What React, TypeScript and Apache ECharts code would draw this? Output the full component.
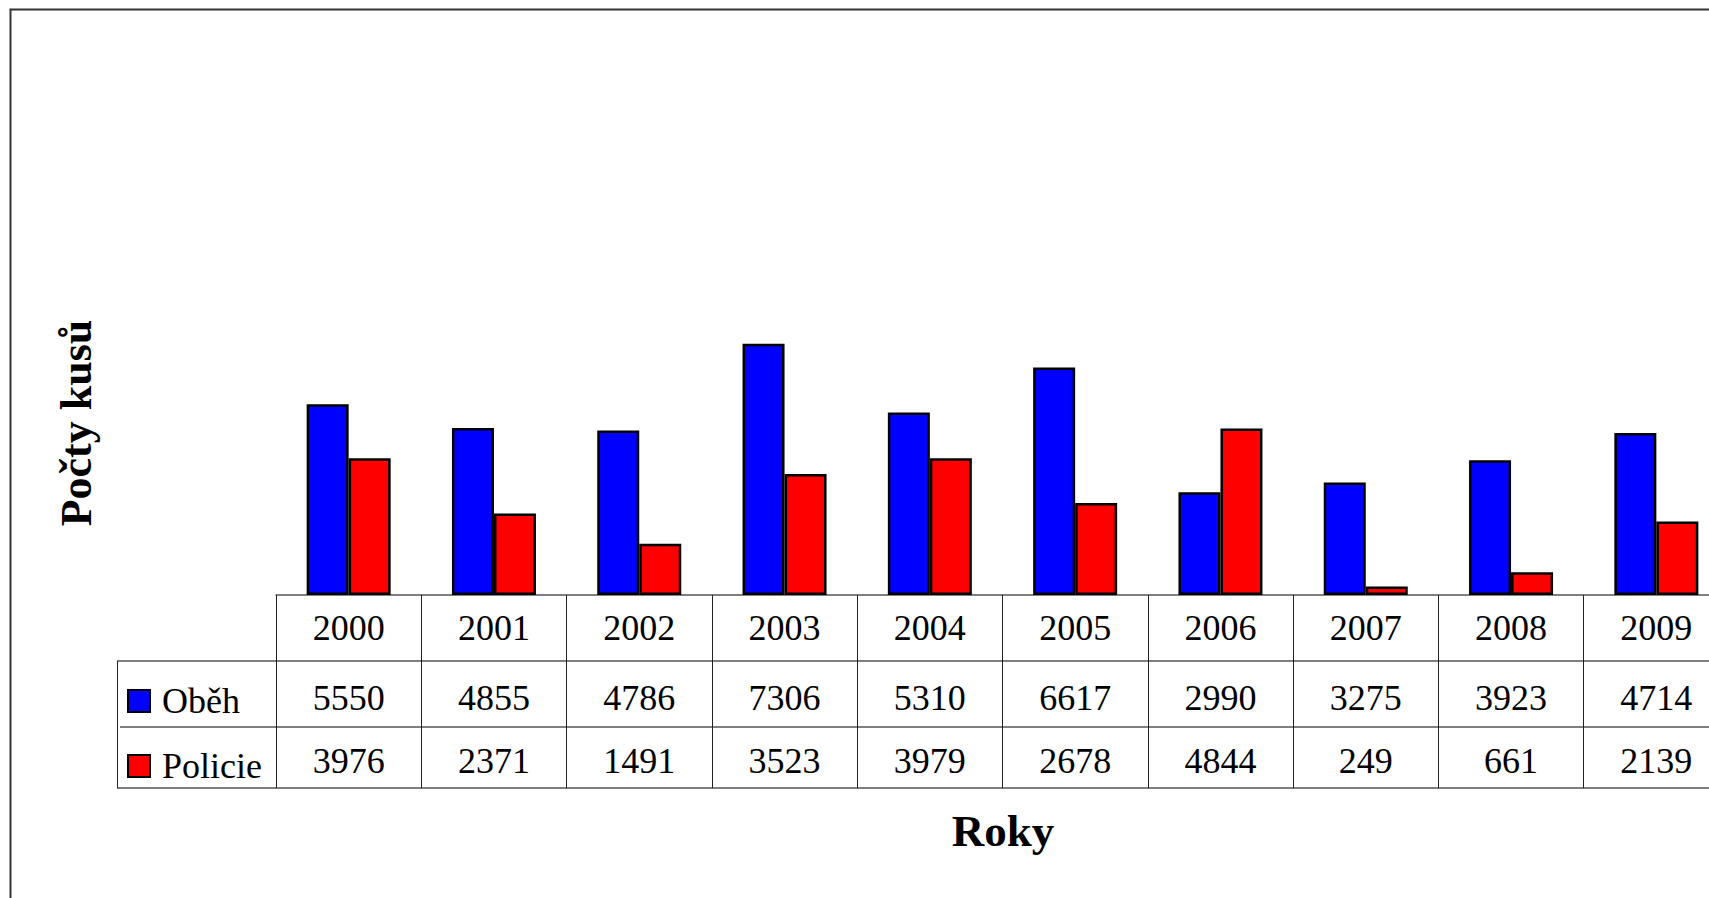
import React, { useEffect, useRef } from "react";
import * as echarts from "echarts";

const years = ["2000", "2001", "2002", "2003", "2004", "2005", "2006", "2007", "2008", "2009"];
const obeh = [5550, 4855, 4786, 7306, 5310, 6617, 2990, 3275, 3923, 4714];
const policie = [3976, 2371, 1491, 3523, 3979, 2678, 4844, 249, 661, 2139];
const seriesNames = ["Oběh", "Policie"];
const yTitle = "Počty kusů";
const xTitle = "Roky";

const FONT = "'Liberation Serif', 'Times New Roman', serif";
const HLINE = "#555";
const VLINE = "#222";

export default function App() {
  const ref = useRef<HTMLDivElement>(null);
  useEffect(() => {
    if (!ref.current) return;
    const chart = echarts.init(ref.current, null, { renderer: "svg" });
    const labelStyle = {
      fontFamily: FONT,
      fontSize: 36,
      color: "#000",
      lineHeight: 36,
    };
    const option: any = {
      animation: false,
      backgroundColor: "#fff",
      grid: { left: 276, right: 31, top: 45, bottom: 303, containLabel: false },
      legend: {
        orient: "vertical",
        left: 127,
        top: 683,
        padding: 0,
        itemWidth: 22,
        itemHeight: 22,
        itemGap: 29,
        icon: "rect",
        selectedMode: false,
        data: seriesNames,
        textStyle: { ...labelStyle, lineHeight: 22, padding: [0, 0, 0, 7] },
      },
      xAxis: [
        {
          type: "category",
          data: years,
          position: "bottom",
          axisLine: { show: true, lineStyle: { color: HLINE, width: 1.5 } },
          axisTick: { show: true, length: 66, lineStyle: { color: VLINE, width: 1 } },
          axisLabel: { ...labelStyle, margin: 15 },
        },
        {
          type: "category",
          data: obeh.map(String),
          position: "bottom",
          offset: 66,
          axisLine: { show: true, lineStyle: { color: HLINE, width: 1.5 } },
          axisTick: { show: true, length: 66, lineStyle: { color: VLINE, width: 1 } },
          axisLabel: { ...labelStyle, margin: 19 },
        },
        {
          type: "category",
          data: policie.map(String),
          position: "bottom",
          offset: 132,
          axisLine: { show: true, lineStyle: { color: HLINE, width: 1.5 } },
          axisTick: { show: true, length: 61, lineStyle: { color: VLINE, width: 1 } },
          axisLabel: { ...labelStyle, margin: 16 },
        },
        {
          type: "category",
          data: years,
          position: "bottom",
          offset: 193,
          axisLine: { show: true, lineStyle: { color: HLINE, width: 1.5 } },
          axisTick: { show: false },
          axisLabel: { show: false },
        },
      ],
      yAxis: {
        type: "value",
        min: 0,
        max: 16000,
        show: false,
      },
      series: [
        {
          name: seriesNames[0],
          type: "bar",
          data: obeh,
          barWidth: 42,
          barGap: "0%",
          itemStyle: { color: "#0000ff", borderColor: "#000", borderWidth: 2.5 },
        },
        {
          name: seriesNames[1],
          type: "bar",
          data: policie,
          barWidth: 42,
          barGap: "0%",
          itemStyle: { color: "#ff0000", borderColor: "#000", borderWidth: 2.5 },
        },
      ],
      graphic: [
        {
          type: "rect",
          shape: { x: 10.5, y: 9.5, width: 2000, height: 2000 },
          style: { fill: "none", stroke: "#333", lineWidth: 2 },
          silent: true,
        },
        { type: "line", shape: { x1: 117, y1: 661, x2: 276, y2: 661 }, style: { stroke: HLINE, lineWidth: 1.5 } },
        { type: "line", shape: { x1: 120, y1: 727, x2: 276, y2: 727 }, style: { stroke: HLINE, lineWidth: 1.5 } },
        { type: "line", shape: { x1: 117, y1: 788, x2: 276, y2: 788 }, style: { stroke: HLINE, lineWidth: 1.5 } },
        { type: "line", shape: { x1: 117.5, y1: 661, x2: 117.5, y2: 788 }, style: { stroke: VLINE, lineWidth: 1 } },
        {
          type: "text",
          x: 76,
          y: 423,
          rotation: Math.PI / 2,
          style: {
            text: yTitle,
            fontFamily: FONT,
            fontSize: 44,
            fontWeight: "bold",
            fill: "#000",
            align: "center",
            verticalAlign: "middle",
          },
        },
        {
          type: "text",
          x: 1003,
          y: 831,
          style: {
            text: xTitle,
            fontFamily: FONT,
            fontSize: 45,
            fontWeight: "bold",
            fill: "#000",
            align: "center",
            verticalAlign: "middle",
          },
        },
      ],
    };
    chart.setOption(option);
    return () => chart.dispose();
  }, []);
  return (
    <div
      style={{
        position: "fixed",
        left: 0,
        top: 0,
        width: 1709,
        height: 898,
        overflow: "hidden",
        background: "#fff",
      }}
    >
      <div ref={ref} style={{ width: 1760, height: 898 }} />
    </div>
  );
}
